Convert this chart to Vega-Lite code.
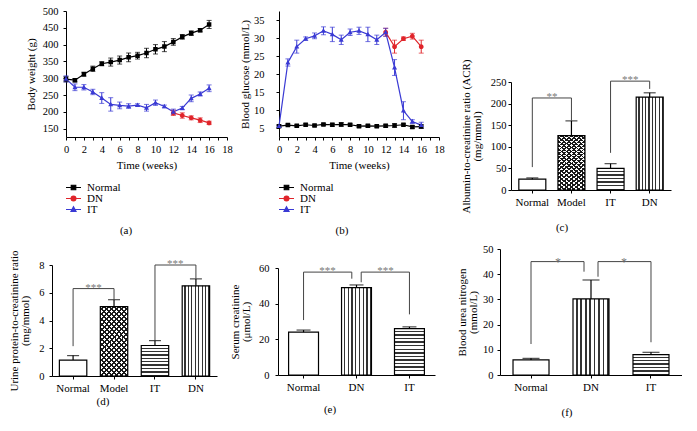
{
"$schema":"https://vega.github.io/schema/vega-lite/v6.json",
"background":"white",
"padding":0,
"columns":3,
"spacing":0,
"bounds":"flush",
"resolve":{"scale":{"color":"independent","shape":"independent"},"legend":{"color":"independent","shape":"independent"}},
"config":{
 "view":{"stroke":null},
 "axis":{"labelFont":"Liberation Serif","titleFont":"Liberation Serif","labelFontSize":10.5,"titleFontSize":11,"titleFontWeight":"normal","labelColor":"#000","titleColor":"#000","domainColor":"#000","tickColor":"#000","tickSize":3,"grid":false,"labelOverlap":false,"labelFlush":false,"titleLineHeight":11},
 "legend":{"labelFont":"Liberation Serif","labelFontSize":11,"labelColor":"#000"},
 "title":{"font":"Liberation Serif","fontSize":11,"fontWeight":"normal","color":"#000"}
},
"datasets":{
 "a":[
  {"g":"Normal","t":0,"v":297,"e":8},{"g":"Normal","t":1,"v":294,"e":5},{"g":"Normal","t":2,"v":312,"e":6},{"g":"Normal","t":3,"v":328,"e":8},
  {"g":"Normal","t":4,"v":343,"e":6},{"g":"Normal","t":5,"v":348,"e":12},{"g":"Normal","t":6,"v":354,"e":12},{"g":"Normal","t":7,"v":362,"e":13},
  {"g":"Normal","t":8,"v":367,"e":10},{"g":"Normal","t":9,"v":375,"e":14},{"g":"Normal","t":10,"v":386,"e":14},{"g":"Normal","t":11,"v":394,"e":15},
  {"g":"Normal","t":12,"v":408,"e":10},{"g":"Normal","t":13,"v":423,"e":7},{"g":"Normal","t":14,"v":434,"e":7},{"g":"Normal","t":15,"v":443,"e":5},
  {"g":"Normal","t":16,"v":460,"e":12},
  {"g":"DN","t":12,"v":197,"e":8},{"g":"DN","t":13,"v":189,"e":8},{"g":"DN","t":14,"v":182,"e":6},{"g":"DN","t":15,"v":175,"e":7},{"g":"DN","t":16,"v":167,"e":5},
  {"g":"IT","t":0,"v":298,"e":9},{"g":"IT","t":1,"v":273,"e":10},{"g":"IT","t":2,"v":273,"e":8},{"g":"IT","t":3,"v":259,"e":8},
  {"g":"IT","t":4,"v":241,"e":16},{"g":"IT","t":5,"v":222,"e":20},{"g":"IT","t":6,"v":219,"e":10},{"g":"IT","t":7,"v":217,"e":7},
  {"g":"IT","t":8,"v":220,"e":4},{"g":"IT","t":9,"v":212,"e":10},{"g":"IT","t":10,"v":227,"e":8},{"g":"IT","t":11,"v":216,"e":4},
  {"g":"IT","t":12,"v":200,"e":8},{"g":"IT","t":13,"v":211,"e":5},{"g":"IT","t":14,"v":240,"e":10},{"g":"IT","t":15,"v":253,"e":6},
  {"g":"IT","t":16,"v":270,"e":10}],
 "b":[
  {"g":"Normal","t":0,"v":5.5,"e":0.3},{"g":"Normal","t":1,"v":5.8,"e":0.3},{"g":"Normal","t":2,"v":5.6,"e":0.3},{"g":"Normal","t":3,"v":5.9,"e":0.3},
  {"g":"Normal","t":4,"v":5.7,"e":0.3},{"g":"Normal","t":5,"v":6.0,"e":0.3},{"g":"Normal","t":6,"v":5.9,"e":0.4},{"g":"Normal","t":7,"v":6.0,"e":0.5},
  {"g":"Normal","t":8,"v":5.9,"e":0.3},{"g":"Normal","t":9,"v":5.5,"e":0.3},{"g":"Normal","t":10,"v":5.6,"e":0.3},{"g":"Normal","t":11,"v":5.5,"e":0.3},
  {"g":"Normal","t":12,"v":5.6,"e":0.4},{"g":"Normal","t":13,"v":5.7,"e":0.5},{"g":"Normal","t":14,"v":5.9,"e":0.3},{"g":"Normal","t":15,"v":5.3,"e":0.4},
  {"g":"Normal","t":16,"v":5.4,"e":0.5},
  {"g":"DN","t":12,"v":31.6,"e":1.1},{"g":"DN","t":13,"v":27.6,"e":1.8},{"g":"DN","t":14,"v":29.8,"e":0.5},{"g":"DN","t":15,"v":30.5,"e":0.8},{"g":"DN","t":16,"v":27.6,"e":1.8},
  {"g":"IT","t":0,"v":5.5,"e":0.3},{"g":"IT","t":1,"v":23.2,"e":1.0},{"g":"IT","t":2,"v":27.6,"e":1.8},{"g":"IT","t":3,"v":29.8,"e":0.5},
  {"g":"IT","t":4,"v":30.6,"e":0.8},{"g":"IT","t":5,"v":32.0,"e":1.1},{"g":"IT","t":6,"v":31.0,"e":2.0},{"g":"IT","t":7,"v":29.5,"e":1.3},
  {"g":"IT","t":8,"v":31.6,"e":0.9},{"g":"IT","t":9,"v":32.0,"e":1.0},{"g":"IT","t":10,"v":31.0,"e":2.0},{"g":"IT","t":11,"v":29.5,"e":1.3},
  {"g":"IT","t":12,"v":31.6,"e":1.1},{"g":"IT","t":13,"v":21.8,"e":2.2},{"g":"IT","t":14,"v":9.8,"e":2.5},{"g":"IT","t":15,"v":6.8,"e":0.5},
  {"g":"IT","t":16,"v":5.8,"e":0.8}],
 "c":[{"g":"Normal","v":25,"hi":28},{"g":"Model","v":126,"hi":160},{"g":"IT","v":50,"hi":61},{"g":"DN","v":215,"hi":225}],
 "cb":[{"a":"Normal","b":"Model","y":213,"ya":53,"yb":160,"s":"**"},{"a":"IT","b":"DN","y":252,"ya":86,"yb":234,"s":"***"}],
 "d":[{"g":"Normal","v":1.15,"hi":1.47},{"g":"Model","v":5.0,"hi":5.5},{"g":"IT","v":2.2,"hi":2.55},{"g":"DN","v":6.5,"hi":7.0}],
 "db":[{"a":"Normal","b":"Model","y":6.3,"ya":2.15,"yb":5.5,"s":"***"},{"a":"IT","b":"DN","y":8.0,"ya":2.55,"yb":7.0,"s":"***"}],
 "e":[{"g":"Normal","v":24,"hi":25.2},{"g":"DN","v":49,"hi":50.5},{"g":"IT","v":26,"hi":27}],
 "eb1":[{"a":"Normal","b":"DN","y":57.7,"ya":30.8,"yb":54,"s":"***"}],
 "eb2":[{"a":"DN","b":"IT","y":57.7,"ya":52,"yb":34,"s":"***"}],
 "f":[{"g":"Normal","v":6.0,"hi":6.6},{"g":"DN","v":30.2,"hi":37.7},{"g":"IT","v":8.1,"hi":9.0}],
 "fb1":[{"a":"Normal","b":"DN","y":45,"ya":12.3,"yb":41,"s":"*"}],
 "fb2":[{"a":"DN","b":"IT","y":45,"ya":39,"yb":13,"s":"*"}]
},
"concat":[
 {"name":"pa","width":227,"height":137,"data":{"name":"a"},
  "title":{"text":"(a)","orient":"bottom","anchor":"middle","frame":"group","offset":10,"dx":12.5},
  "encoding":{
   "x":{"field":"t","type":"quantitative","scale":{"domain":[0,18],"range":[66,227],"nice":false,"zero":false},"axis":{"title":"Time (weeks)","values":[0,1,2,3,4,5,6,7,8,9,10,11,12,13,14,15,16,17,18],"labelExpr":"datum.value % 2 === 0 ? datum.label : ''","labelPadding":4,"titlePadding":5}},
   "y":{"field":"v","type":"quantitative","scale":{"domain":[125,500],"range":[137,11],"nice":false,"zero":false},"axis":{"title":"Body weight (g)","values":[150,200,250,300,350,400,450,500],"offset":-66,"labelPadding":5,"titlePadding":6}},
   "color":{"field":"g","type":"nominal","scale":{"domain":["Normal","DN","IT"],"range":["#000000","#e0242a","#3a3ad4"]},
     "legend":{"title":null,"orient":"none","legendX":67.5,"legendY":181.5,"symbolSize":100,"rowPadding":-2,"labelOffset":7.5,"padding":0,"symbolStrokeWidth":1.2,
      "encode":{"symbols":{"update":{
       "fill":[{"test":"datum.value === 'DN'","value":"#e0242a"},{"test":"datum.value === 'IT'","value":"#3a3ad4"},{"value":"#000000"}],
       "stroke":[{"test":"datum.value === 'DN'","value":"#e0242a"},{"test":"datum.value === 'IT'","value":"#3a3ad4"},{"value":"#000000"}],
       "strokeWidth":{"value":1.2}}}}}}},
  "layer":[
   {"mark":{"type":"line","strokeWidth":1.2}},
   {"mark":{"type":"errorbar","ticks":{"size":5},"rule":{"strokeWidth":1}},"encoding":{"yError":{"field":"e"}}},
   {"mark":{"type":"point","filled":true,"strokeWidth":0,"size":100,"opacity":1},
    "encoding":{"shape":{"field":"g","type":"nominal","scale":{"domain":["Normal","DN","IT"],"range":["M-1.5,0H1.5M-0.45,-0.45H0.45V0.45H-0.45Z","M-1.5,0H1.5M0.48,0A0.48,0.48,0,1,1,-0.48,0A0.48,0.48,0,1,1,0.48,0Z","M-1.5,0H1.5M0,-0.54L0.5,0.38H-0.5Z"]},
     "legend":{"title":null,"orient":"none","legendX":67.5,"legendY":181.5,"symbolSize":100,"rowPadding":-2,"labelOffset":7.5,"padding":0,"symbolStrokeWidth":1.2,
      "encode":{"symbols":{"update":{
       "fill":[{"test":"datum.value === 'DN'","value":"#e0242a"},{"test":"datum.value === 'IT'","value":"#3a3ad4"},{"value":"#000000"}],
       "stroke":[{"test":"datum.value === 'DN'","value":"#e0242a"},{"test":"datum.value === 'IT'","value":"#3a3ad4"},{"value":"#000000"}],
       "strokeWidth":{"value":1.2}}}}}}}}
  ]},
 {"name":"pb","width":212,"height":137,"data":{"name":"b"},
  "title":{"text":"(b)","orient":"bottom","anchor":"middle","frame":"group","offset":10,"dx":9},
  "encoding":{
   "x":{"field":"t","type":"quantitative","scale":{"domain":[0,18],"range":[52,212],"nice":false,"zero":false},"axis":{"title":"Time (weeks)","values":[0,1,2,3,4,5,6,7,8,9,10,11,12,13,14,15,16,17,18],"labelExpr":"datum.value % 2 === 0 ? datum.label : ''","labelPadding":4,"titlePadding":5}},
   "y":{"field":"v","type":"quantitative","scale":{"domain":[2.5,37.5],"range":[137,11],"nice":false,"zero":false},"axis":{"title":"Blood glucose (mmol/L)","values":[5,10,15,20,25,30,35],"offset":-52,"labelPadding":12,"titlePadding":3}},
   "color":{"field":"g","type":"nominal","scale":{"domain":["Normal","DN","IT"],"range":["#000000","#e0242a","#3a3ad4"]},
     "legend":{"title":null,"orient":"none","legendX":53.5,"legendY":181.5,"symbolSize":100,"rowPadding":-2,"labelOffset":7.5,"padding":0,"symbolStrokeWidth":1.2,
      "encode":{"symbols":{"update":{
       "fill":[{"test":"datum.value === 'DN'","value":"#e0242a"},{"test":"datum.value === 'IT'","value":"#3a3ad4"},{"value":"#000000"}],
       "stroke":[{"test":"datum.value === 'DN'","value":"#e0242a"},{"test":"datum.value === 'IT'","value":"#3a3ad4"},{"value":"#000000"}],
       "strokeWidth":{"value":1.2}}}}}}},
  "layer":[
   {"mark":{"type":"line","strokeWidth":1.2}},
   {"mark":{"type":"errorbar","ticks":{"size":5},"rule":{"strokeWidth":1}},"encoding":{"yError":{"field":"e"}}},
   {"mark":{"type":"point","filled":true,"strokeWidth":0,"size":100,"opacity":1},
    "encoding":{"shape":{"field":"g","type":"nominal","scale":{"domain":["Normal","DN","IT"],"range":["M-1.5,0H1.5M-0.45,-0.45H0.45V0.45H-0.45Z","M-1.5,0H1.5M0.48,0A0.48,0.48,0,1,1,-0.48,0A0.48,0.48,0,1,1,0.48,0Z","M-1.5,0H1.5M0,-0.54L0.5,0.38H-0.5Z"]},
     "legend":{"title":null,"orient":"none","legendX":53.5,"legendY":181.5,"symbolSize":100,"rowPadding":-2,"labelOffset":7.5,"padding":0,"symbolStrokeWidth":1.2,
      "encode":{"symbols":{"update":{
       "fill":[{"test":"datum.value === 'DN'","value":"#e0242a"},{"test":"datum.value === 'IT'","value":"#3a3ad4"},{"value":"#000000"}],
       "stroke":[{"test":"datum.value === 'DN'","value":"#e0242a"},{"test":"datum.value === 'IT'","value":"#3a3ad4"},{"value":"#000000"}],
       "strokeWidth":{"value":1.2}}}}}}}}
  ]},
 {"name":"pc","width":232,"height":190,"data":{"name":"c"},
  "title":{"text":"(c)","orient":"bottom","anchor":"middle","frame":"group","offset":9,"dx":7},
  "encoding":{
   "x":{"field":"g","type":"nominal","sort":null,"scale":{"domain":["Normal","Model","IT","DN"],"range":[72,232],"paddingInner":0.31,"paddingOuter":0.2},"axis":{"title":null,"labelAngle":0,"labelFontSize":11,"labelPadding":3}},
   "y":{"field":"v","type":"quantitative","scale":{"domain":[0,250],"range":[190,82],"nice":false,"zero":false},"axis":{"title":["Albumin-to-creatinine ratio (ACR)","(mg/mmol)"],"values":[0,50,100,150,200,250],"offset":-72,"labelPadding":2,"titlePadding":8}}},
  "layer":[
   {"mark":{"type":"bar","fill":"#ffffff","stroke":null}},
   {"transform":[{"filter":"datum.g === 'DN'"}],"mark":{"type":"bar","stroke":null,"fill":{"gradient":"linear","x1":0,"y1":0,"x2":1,"y2":0,"stops":[
   {"offset":0,"color":"#ffffff"},{"offset":0.081,"color":"#ffffff"},{"offset":0.081,"color":"#333333"},{"offset":0.125,"color":"#333333"},
   {"offset":0.125,"color":"#ffffff"},{"offset":0.206,"color":"#ffffff"},{"offset":0.206,"color":"#333333"},{"offset":0.25,"color":"#333333"},
   {"offset":0.25,"color":"#ffffff"},{"offset":0.331,"color":"#ffffff"},{"offset":0.331,"color":"#333333"},{"offset":0.375,"color":"#333333"},
   {"offset":0.375,"color":"#ffffff"},{"offset":0.456,"color":"#ffffff"},{"offset":0.456,"color":"#333333"},{"offset":0.5,"color":"#333333"},
   {"offset":0.5,"color":"#ffffff"},{"offset":0.581,"color":"#ffffff"},{"offset":0.581,"color":"#333333"},{"offset":0.625,"color":"#333333"},
   {"offset":0.625,"color":"#ffffff"},{"offset":0.706,"color":"#ffffff"},{"offset":0.706,"color":"#333333"},{"offset":0.75,"color":"#333333"},
   {"offset":0.75,"color":"#ffffff"},{"offset":0.831,"color":"#ffffff"},{"offset":0.831,"color":"#333333"},{"offset":0.875,"color":"#333333"},
   {"offset":0.875,"color":"#ffffff"},{"offset":0.956,"color":"#ffffff"},{"offset":0.956,"color":"#333333"},{"offset":1,"color":"#333333"}]}}},
   {"transform":[{"filter":"datum.g === 'IT'"}],"mark":{"type":"bar","stroke":null,"fill":{"gradient":"linear","x1":0,"y1":0,"x2":0,"y2":1,"stops":[
   {"offset":0,"color":"#ffffff"},{"offset":0.1,"color":"#ffffff"},{"offset":0.1,"color":"#333333"},{"offset":0.1667,"color":"#333333"},
   {"offset":0.1667,"color":"#ffffff"},{"offset":0.2667,"color":"#ffffff"},{"offset":0.2667,"color":"#333333"},{"offset":0.3333,"color":"#333333"},
   {"offset":0.3333,"color":"#ffffff"},{"offset":0.4333,"color":"#ffffff"},{"offset":0.4333,"color":"#333333"},{"offset":0.5,"color":"#333333"},
   {"offset":0.5,"color":"#ffffff"},{"offset":0.6,"color":"#ffffff"},{"offset":0.6,"color":"#333333"},{"offset":0.6667,"color":"#333333"},
   {"offset":0.6667,"color":"#ffffff"},{"offset":0.7667,"color":"#ffffff"},{"offset":0.7667,"color":"#333333"},{"offset":0.8333,"color":"#333333"},
   {"offset":0.8333,"color":"#ffffff"},{"offset":0.9333,"color":"#ffffff"},{"offset":0.9333,"color":"#333333"},{"offset":1,"color":"#333333"}]}}},
   {"transform":[{"filter":"datum.g === 'Model'"}],"mark":{"type":"bar","stroke":null,"fill":{"gradient":"linear","x1":0,"y1":0,"x2":1,"y2":2.5,"stops":[
   {"offset":0,"color":"rgba(0,0,0,0)"},{"offset":0.015,"color":"rgba(0,0,0,0)"},{"offset":0.015,"color":"#1a1a1a"},{"offset":0.025,"color":"#1a1a1a"},
   {"offset":0.025,"color":"rgba(0,0,0,0)"},{"offset":0.04,"color":"rgba(0,0,0,0)"},{"offset":0.04,"color":"#1a1a1a"},{"offset":0.05,"color":"#1a1a1a"},
   {"offset":0.05,"color":"rgba(0,0,0,0)"},{"offset":0.065,"color":"rgba(0,0,0,0)"},{"offset":0.065,"color":"#1a1a1a"},{"offset":0.075,"color":"#1a1a1a"},
   {"offset":0.075,"color":"rgba(0,0,0,0)"},{"offset":0.09,"color":"rgba(0,0,0,0)"},{"offset":0.09,"color":"#1a1a1a"},{"offset":0.1,"color":"#1a1a1a"},
   {"offset":0.1,"color":"rgba(0,0,0,0)"},{"offset":0.115,"color":"rgba(0,0,0,0)"},{"offset":0.115,"color":"#1a1a1a"},{"offset":0.125,"color":"#1a1a1a"},
   {"offset":0.125,"color":"rgba(0,0,0,0)"},{"offset":0.14,"color":"rgba(0,0,0,0)"},{"offset":0.14,"color":"#1a1a1a"},{"offset":0.15,"color":"#1a1a1a"},
   {"offset":0.15,"color":"rgba(0,0,0,0)"},{"offset":0.165,"color":"rgba(0,0,0,0)"},{"offset":0.165,"color":"#1a1a1a"},{"offset":0.175,"color":"#1a1a1a"},
   {"offset":0.175,"color":"rgba(0,0,0,0)"},{"offset":0.19,"color":"rgba(0,0,0,0)"},{"offset":0.19,"color":"#1a1a1a"},{"offset":0.2,"color":"#1a1a1a"},
   {"offset":0.2,"color":"rgba(0,0,0,0)"},{"offset":0.215,"color":"rgba(0,0,0,0)"},{"offset":0.215,"color":"#1a1a1a"},{"offset":0.225,"color":"#1a1a1a"},
   {"offset":0.225,"color":"rgba(0,0,0,0)"},{"offset":0.24,"color":"rgba(0,0,0,0)"},{"offset":0.24,"color":"#1a1a1a"},{"offset":0.25,"color":"#1a1a1a"},
   {"offset":0.25,"color":"rgba(0,0,0,0)"},{"offset":0.265,"color":"rgba(0,0,0,0)"},{"offset":0.265,"color":"#1a1a1a"},{"offset":0.275,"color":"#1a1a1a"},
   {"offset":0.275,"color":"rgba(0,0,0,0)"},{"offset":0.29,"color":"rgba(0,0,0,0)"},{"offset":0.29,"color":"#1a1a1a"},{"offset":0.3,"color":"#1a1a1a"},
   {"offset":0.3,"color":"rgba(0,0,0,0)"},{"offset":0.315,"color":"rgba(0,0,0,0)"},{"offset":0.315,"color":"#1a1a1a"},{"offset":0.325,"color":"#1a1a1a"},
   {"offset":0.325,"color":"rgba(0,0,0,0)"},{"offset":0.34,"color":"rgba(0,0,0,0)"},{"offset":0.34,"color":"#1a1a1a"},{"offset":0.35,"color":"#1a1a1a"},
   {"offset":0.35,"color":"rgba(0,0,0,0)"},{"offset":0.365,"color":"rgba(0,0,0,0)"},{"offset":0.365,"color":"#1a1a1a"},{"offset":0.375,"color":"#1a1a1a"},
   {"offset":0.375,"color":"rgba(0,0,0,0)"},{"offset":0.39,"color":"rgba(0,0,0,0)"},{"offset":0.39,"color":"#1a1a1a"},{"offset":0.4,"color":"#1a1a1a"},
   {"offset":0.4,"color":"rgba(0,0,0,0)"},{"offset":0.415,"color":"rgba(0,0,0,0)"},{"offset":0.415,"color":"#1a1a1a"},{"offset":0.425,"color":"#1a1a1a"},
   {"offset":0.425,"color":"rgba(0,0,0,0)"},{"offset":0.44,"color":"rgba(0,0,0,0)"},{"offset":0.44,"color":"#1a1a1a"},{"offset":0.45,"color":"#1a1a1a"},
   {"offset":0.45,"color":"rgba(0,0,0,0)"},{"offset":0.465,"color":"rgba(0,0,0,0)"},{"offset":0.465,"color":"#1a1a1a"},{"offset":0.475,"color":"#1a1a1a"},
   {"offset":0.475,"color":"rgba(0,0,0,0)"},{"offset":0.49,"color":"rgba(0,0,0,0)"},{"offset":0.49,"color":"#1a1a1a"},{"offset":0.5,"color":"#1a1a1a"}]}}},
   {"transform":[{"filter":"datum.g === 'Model'"}],"mark":{"type":"bar","stroke":null,"fill":{"gradient":"linear","x1":1,"y1":0,"x2":0,"y2":2.5,"stops":[
   {"offset":0,"color":"rgba(0,0,0,0)"},{"offset":0.015,"color":"rgba(0,0,0,0)"},{"offset":0.015,"color":"#1a1a1a"},{"offset":0.025,"color":"#1a1a1a"},
   {"offset":0.025,"color":"rgba(0,0,0,0)"},{"offset":0.04,"color":"rgba(0,0,0,0)"},{"offset":0.04,"color":"#1a1a1a"},{"offset":0.05,"color":"#1a1a1a"},
   {"offset":0.05,"color":"rgba(0,0,0,0)"},{"offset":0.065,"color":"rgba(0,0,0,0)"},{"offset":0.065,"color":"#1a1a1a"},{"offset":0.075,"color":"#1a1a1a"},
   {"offset":0.075,"color":"rgba(0,0,0,0)"},{"offset":0.09,"color":"rgba(0,0,0,0)"},{"offset":0.09,"color":"#1a1a1a"},{"offset":0.1,"color":"#1a1a1a"},
   {"offset":0.1,"color":"rgba(0,0,0,0)"},{"offset":0.115,"color":"rgba(0,0,0,0)"},{"offset":0.115,"color":"#1a1a1a"},{"offset":0.125,"color":"#1a1a1a"},
   {"offset":0.125,"color":"rgba(0,0,0,0)"},{"offset":0.14,"color":"rgba(0,0,0,0)"},{"offset":0.14,"color":"#1a1a1a"},{"offset":0.15,"color":"#1a1a1a"},
   {"offset":0.15,"color":"rgba(0,0,0,0)"},{"offset":0.165,"color":"rgba(0,0,0,0)"},{"offset":0.165,"color":"#1a1a1a"},{"offset":0.175,"color":"#1a1a1a"},
   {"offset":0.175,"color":"rgba(0,0,0,0)"},{"offset":0.19,"color":"rgba(0,0,0,0)"},{"offset":0.19,"color":"#1a1a1a"},{"offset":0.2,"color":"#1a1a1a"},
   {"offset":0.2,"color":"rgba(0,0,0,0)"},{"offset":0.215,"color":"rgba(0,0,0,0)"},{"offset":0.215,"color":"#1a1a1a"},{"offset":0.225,"color":"#1a1a1a"},
   {"offset":0.225,"color":"rgba(0,0,0,0)"},{"offset":0.24,"color":"rgba(0,0,0,0)"},{"offset":0.24,"color":"#1a1a1a"},{"offset":0.25,"color":"#1a1a1a"},
   {"offset":0.25,"color":"rgba(0,0,0,0)"},{"offset":0.265,"color":"rgba(0,0,0,0)"},{"offset":0.265,"color":"#1a1a1a"},{"offset":0.275,"color":"#1a1a1a"},
   {"offset":0.275,"color":"rgba(0,0,0,0)"},{"offset":0.29,"color":"rgba(0,0,0,0)"},{"offset":0.29,"color":"#1a1a1a"},{"offset":0.3,"color":"#1a1a1a"},
   {"offset":0.3,"color":"rgba(0,0,0,0)"},{"offset":0.315,"color":"rgba(0,0,0,0)"},{"offset":0.315,"color":"#1a1a1a"},{"offset":0.325,"color":"#1a1a1a"},
   {"offset":0.325,"color":"rgba(0,0,0,0)"},{"offset":0.34,"color":"rgba(0,0,0,0)"},{"offset":0.34,"color":"#1a1a1a"},{"offset":0.35,"color":"#1a1a1a"},
   {"offset":0.35,"color":"rgba(0,0,0,0)"},{"offset":0.365,"color":"rgba(0,0,0,0)"},{"offset":0.365,"color":"#1a1a1a"},{"offset":0.375,"color":"#1a1a1a"},
   {"offset":0.375,"color":"rgba(0,0,0,0)"},{"offset":0.39,"color":"rgba(0,0,0,0)"},{"offset":0.39,"color":"#1a1a1a"},{"offset":0.4,"color":"#1a1a1a"},
   {"offset":0.4,"color":"rgba(0,0,0,0)"},{"offset":0.415,"color":"rgba(0,0,0,0)"},{"offset":0.415,"color":"#1a1a1a"},{"offset":0.425,"color":"#1a1a1a"},
   {"offset":0.425,"color":"rgba(0,0,0,0)"},{"offset":0.44,"color":"rgba(0,0,0,0)"},{"offset":0.44,"color":"#1a1a1a"},{"offset":0.45,"color":"#1a1a1a"},
   {"offset":0.45,"color":"rgba(0,0,0,0)"},{"offset":0.465,"color":"rgba(0,0,0,0)"},{"offset":0.465,"color":"#1a1a1a"},{"offset":0.475,"color":"#1a1a1a"},
   {"offset":0.475,"color":"rgba(0,0,0,0)"},{"offset":0.49,"color":"rgba(0,0,0,0)"},{"offset":0.49,"color":"#1a1a1a"},{"offset":0.5,"color":"#1a1a1a"}]}}},
   {"mark":{"type":"bar","fill":"transparent","stroke":"#000000","strokeWidth":1.2}},
   {"mark":{"type":"rule","color":"#000000","strokeWidth":1.2},"encoding":{"y2":{"field":"hi"}}},
   {"mark":{"type":"tick","color":"#000000","thickness":1.2,"size":12},"encoding":{"y":{"field":"hi","type":"quantitative"}}},
   {"data":{"name":"cb"},"mark":{"type":"rule","color":"#444444","strokeWidth":1},"encoding":{"x":{"field":"a","type":"nominal"},"x2":{"field":"b"},"y":{"field":"y","type":"quantitative"}}},
   {"data":{"name":"cb"},"mark":{"type":"rule","color":"#444444","strokeWidth":1},"encoding":{"x":{"field":"a","type":"nominal"},"y":{"field":"ya","type":"quantitative"},"y2":{"field":"y"}}},
   {"data":{"name":"cb"},"mark":{"type":"rule","color":"#444444","strokeWidth":1},"encoding":{"x":{"field":"b","type":"nominal"},"y":{"field":"yb","type":"quantitative"},"y2":{"field":"y"}}},
   {"data":{"name":"cb"},"mark":{"type":"text","dx":19.7,"dy":2,"baseline":"alphabetic","fontSize":11,"color":"#777777","font":"Liberation Serif"},"encoding":{"x":{"field":"a","type":"nominal"},"y":{"field":"y","type":"quantitative"},"text":{"field":"s"}}}
  ]},
 {"name":"pd","width":217,"height":186,"data":{"name":"d"},
  "title":{"text":"(d)","orient":"bottom","anchor":"middle","frame":"group","offset":3,"dx":-5.5},
  "encoding":{
   "x":{"field":"g","type":"nominal","sort":null,"scale":{"domain":["Normal","Model","IT","DN"],"range":[52,217],"paddingInner":0.33,"paddingOuter":0.18},"axis":{"title":null,"labelAngle":0,"labelFontSize":11,"labelPadding":3}},
   "y":{"field":"v","type":"quantitative","scale":{"domain":[0,8],"range":[186,75],"nice":false,"zero":false},"axis":{"title":["Urine protein-to-creatinine ratio","(mg/mmol)"],"values":[0,2,4,6,8],"offset":-52,"labelPadding":5,"titlePadding":8}}},
  "layer":[
   {"mark":{"type":"bar","fill":"#ffffff","stroke":null}},
   {"transform":[{"filter":"datum.g === 'DN'"}],"mark":{"type":"bar","stroke":null,"fill":{"gradient":"linear","x1":0,"y1":0,"x2":1,"y2":0,"stops":[
   {"offset":0,"color":"#ffffff"},{"offset":0.081,"color":"#ffffff"},{"offset":0.081,"color":"#333333"},{"offset":0.125,"color":"#333333"},
   {"offset":0.125,"color":"#ffffff"},{"offset":0.206,"color":"#ffffff"},{"offset":0.206,"color":"#333333"},{"offset":0.25,"color":"#333333"},
   {"offset":0.25,"color":"#ffffff"},{"offset":0.331,"color":"#ffffff"},{"offset":0.331,"color":"#333333"},{"offset":0.375,"color":"#333333"},
   {"offset":0.375,"color":"#ffffff"},{"offset":0.456,"color":"#ffffff"},{"offset":0.456,"color":"#333333"},{"offset":0.5,"color":"#333333"},
   {"offset":0.5,"color":"#ffffff"},{"offset":0.581,"color":"#ffffff"},{"offset":0.581,"color":"#333333"},{"offset":0.625,"color":"#333333"},
   {"offset":0.625,"color":"#ffffff"},{"offset":0.706,"color":"#ffffff"},{"offset":0.706,"color":"#333333"},{"offset":0.75,"color":"#333333"},
   {"offset":0.75,"color":"#ffffff"},{"offset":0.831,"color":"#ffffff"},{"offset":0.831,"color":"#333333"},{"offset":0.875,"color":"#333333"},
   {"offset":0.875,"color":"#ffffff"},{"offset":0.956,"color":"#ffffff"},{"offset":0.956,"color":"#333333"},{"offset":1,"color":"#333333"}]}}},
   {"transform":[{"filter":"datum.g === 'IT'"}],"mark":{"type":"bar","stroke":null,"fill":{"gradient":"linear","x1":0,"y1":0,"x2":0,"y2":1,"stops":[
   {"offset":0,"color":"#ffffff"},{"offset":0.0667,"color":"#ffffff"},{"offset":0.0667,"color":"#333333"},{"offset":0.1111,"color":"#333333"},
   {"offset":0.1111,"color":"#ffffff"},{"offset":0.1778,"color":"#ffffff"},{"offset":0.1778,"color":"#333333"},{"offset":0.2222,"color":"#333333"},
   {"offset":0.2222,"color":"#ffffff"},{"offset":0.2889,"color":"#ffffff"},{"offset":0.2889,"color":"#333333"},{"offset":0.3333,"color":"#333333"},
   {"offset":0.3333,"color":"#ffffff"},{"offset":0.4,"color":"#ffffff"},{"offset":0.4,"color":"#333333"},{"offset":0.4444,"color":"#333333"},
   {"offset":0.4444,"color":"#ffffff"},{"offset":0.5111,"color":"#ffffff"},{"offset":0.5111,"color":"#333333"},{"offset":0.5556,"color":"#333333"},
   {"offset":0.5556,"color":"#ffffff"},{"offset":0.6222,"color":"#ffffff"},{"offset":0.6222,"color":"#333333"},{"offset":0.6667,"color":"#333333"},
   {"offset":0.6667,"color":"#ffffff"},{"offset":0.7333,"color":"#ffffff"},{"offset":0.7333,"color":"#333333"},{"offset":0.7778,"color":"#333333"},
   {"offset":0.7778,"color":"#ffffff"},{"offset":0.8444,"color":"#ffffff"},{"offset":0.8444,"color":"#333333"},{"offset":0.8889,"color":"#333333"},
   {"offset":0.8889,"color":"#ffffff"},{"offset":0.9556,"color":"#ffffff"},{"offset":0.9556,"color":"#333333"},{"offset":1,"color":"#333333"}]}}},
   {"transform":[{"filter":"datum.g === 'Model'"}],"mark":{"type":"bar","stroke":null,"fill":{"gradient":"linear","x1":0,"y1":0,"x2":1,"y2":2.5,"stops":[
   {"offset":0,"color":"rgba(0,0,0,0)"},{"offset":0.015,"color":"rgba(0,0,0,0)"},{"offset":0.015,"color":"#1a1a1a"},{"offset":0.025,"color":"#1a1a1a"},
   {"offset":0.025,"color":"rgba(0,0,0,0)"},{"offset":0.04,"color":"rgba(0,0,0,0)"},{"offset":0.04,"color":"#1a1a1a"},{"offset":0.05,"color":"#1a1a1a"},
   {"offset":0.05,"color":"rgba(0,0,0,0)"},{"offset":0.065,"color":"rgba(0,0,0,0)"},{"offset":0.065,"color":"#1a1a1a"},{"offset":0.075,"color":"#1a1a1a"},
   {"offset":0.075,"color":"rgba(0,0,0,0)"},{"offset":0.09,"color":"rgba(0,0,0,0)"},{"offset":0.09,"color":"#1a1a1a"},{"offset":0.1,"color":"#1a1a1a"},
   {"offset":0.1,"color":"rgba(0,0,0,0)"},{"offset":0.115,"color":"rgba(0,0,0,0)"},{"offset":0.115,"color":"#1a1a1a"},{"offset":0.125,"color":"#1a1a1a"},
   {"offset":0.125,"color":"rgba(0,0,0,0)"},{"offset":0.14,"color":"rgba(0,0,0,0)"},{"offset":0.14,"color":"#1a1a1a"},{"offset":0.15,"color":"#1a1a1a"},
   {"offset":0.15,"color":"rgba(0,0,0,0)"},{"offset":0.165,"color":"rgba(0,0,0,0)"},{"offset":0.165,"color":"#1a1a1a"},{"offset":0.175,"color":"#1a1a1a"},
   {"offset":0.175,"color":"rgba(0,0,0,0)"},{"offset":0.19,"color":"rgba(0,0,0,0)"},{"offset":0.19,"color":"#1a1a1a"},{"offset":0.2,"color":"#1a1a1a"},
   {"offset":0.2,"color":"rgba(0,0,0,0)"},{"offset":0.215,"color":"rgba(0,0,0,0)"},{"offset":0.215,"color":"#1a1a1a"},{"offset":0.225,"color":"#1a1a1a"},
   {"offset":0.225,"color":"rgba(0,0,0,0)"},{"offset":0.24,"color":"rgba(0,0,0,0)"},{"offset":0.24,"color":"#1a1a1a"},{"offset":0.25,"color":"#1a1a1a"},
   {"offset":0.25,"color":"rgba(0,0,0,0)"},{"offset":0.265,"color":"rgba(0,0,0,0)"},{"offset":0.265,"color":"#1a1a1a"},{"offset":0.275,"color":"#1a1a1a"},
   {"offset":0.275,"color":"rgba(0,0,0,0)"},{"offset":0.29,"color":"rgba(0,0,0,0)"},{"offset":0.29,"color":"#1a1a1a"},{"offset":0.3,"color":"#1a1a1a"},
   {"offset":0.3,"color":"rgba(0,0,0,0)"},{"offset":0.315,"color":"rgba(0,0,0,0)"},{"offset":0.315,"color":"#1a1a1a"},{"offset":0.325,"color":"#1a1a1a"},
   {"offset":0.325,"color":"rgba(0,0,0,0)"},{"offset":0.34,"color":"rgba(0,0,0,0)"},{"offset":0.34,"color":"#1a1a1a"},{"offset":0.35,"color":"#1a1a1a"},
   {"offset":0.35,"color":"rgba(0,0,0,0)"},{"offset":0.365,"color":"rgba(0,0,0,0)"},{"offset":0.365,"color":"#1a1a1a"},{"offset":0.375,"color":"#1a1a1a"},
   {"offset":0.375,"color":"rgba(0,0,0,0)"},{"offset":0.39,"color":"rgba(0,0,0,0)"},{"offset":0.39,"color":"#1a1a1a"},{"offset":0.4,"color":"#1a1a1a"},
   {"offset":0.4,"color":"rgba(0,0,0,0)"},{"offset":0.415,"color":"rgba(0,0,0,0)"},{"offset":0.415,"color":"#1a1a1a"},{"offset":0.425,"color":"#1a1a1a"},
   {"offset":0.425,"color":"rgba(0,0,0,0)"},{"offset":0.44,"color":"rgba(0,0,0,0)"},{"offset":0.44,"color":"#1a1a1a"},{"offset":0.45,"color":"#1a1a1a"},
   {"offset":0.45,"color":"rgba(0,0,0,0)"},{"offset":0.465,"color":"rgba(0,0,0,0)"},{"offset":0.465,"color":"#1a1a1a"},{"offset":0.475,"color":"#1a1a1a"},
   {"offset":0.475,"color":"rgba(0,0,0,0)"},{"offset":0.49,"color":"rgba(0,0,0,0)"},{"offset":0.49,"color":"#1a1a1a"},{"offset":0.5,"color":"#1a1a1a"}]}}},
   {"transform":[{"filter":"datum.g === 'Model'"}],"mark":{"type":"bar","stroke":null,"fill":{"gradient":"linear","x1":1,"y1":0,"x2":0,"y2":2.5,"stops":[
   {"offset":0,"color":"rgba(0,0,0,0)"},{"offset":0.015,"color":"rgba(0,0,0,0)"},{"offset":0.015,"color":"#1a1a1a"},{"offset":0.025,"color":"#1a1a1a"},
   {"offset":0.025,"color":"rgba(0,0,0,0)"},{"offset":0.04,"color":"rgba(0,0,0,0)"},{"offset":0.04,"color":"#1a1a1a"},{"offset":0.05,"color":"#1a1a1a"},
   {"offset":0.05,"color":"rgba(0,0,0,0)"},{"offset":0.065,"color":"rgba(0,0,0,0)"},{"offset":0.065,"color":"#1a1a1a"},{"offset":0.075,"color":"#1a1a1a"},
   {"offset":0.075,"color":"rgba(0,0,0,0)"},{"offset":0.09,"color":"rgba(0,0,0,0)"},{"offset":0.09,"color":"#1a1a1a"},{"offset":0.1,"color":"#1a1a1a"},
   {"offset":0.1,"color":"rgba(0,0,0,0)"},{"offset":0.115,"color":"rgba(0,0,0,0)"},{"offset":0.115,"color":"#1a1a1a"},{"offset":0.125,"color":"#1a1a1a"},
   {"offset":0.125,"color":"rgba(0,0,0,0)"},{"offset":0.14,"color":"rgba(0,0,0,0)"},{"offset":0.14,"color":"#1a1a1a"},{"offset":0.15,"color":"#1a1a1a"},
   {"offset":0.15,"color":"rgba(0,0,0,0)"},{"offset":0.165,"color":"rgba(0,0,0,0)"},{"offset":0.165,"color":"#1a1a1a"},{"offset":0.175,"color":"#1a1a1a"},
   {"offset":0.175,"color":"rgba(0,0,0,0)"},{"offset":0.19,"color":"rgba(0,0,0,0)"},{"offset":0.19,"color":"#1a1a1a"},{"offset":0.2,"color":"#1a1a1a"},
   {"offset":0.2,"color":"rgba(0,0,0,0)"},{"offset":0.215,"color":"rgba(0,0,0,0)"},{"offset":0.215,"color":"#1a1a1a"},{"offset":0.225,"color":"#1a1a1a"},
   {"offset":0.225,"color":"rgba(0,0,0,0)"},{"offset":0.24,"color":"rgba(0,0,0,0)"},{"offset":0.24,"color":"#1a1a1a"},{"offset":0.25,"color":"#1a1a1a"},
   {"offset":0.25,"color":"rgba(0,0,0,0)"},{"offset":0.265,"color":"rgba(0,0,0,0)"},{"offset":0.265,"color":"#1a1a1a"},{"offset":0.275,"color":"#1a1a1a"},
   {"offset":0.275,"color":"rgba(0,0,0,0)"},{"offset":0.29,"color":"rgba(0,0,0,0)"},{"offset":0.29,"color":"#1a1a1a"},{"offset":0.3,"color":"#1a1a1a"},
   {"offset":0.3,"color":"rgba(0,0,0,0)"},{"offset":0.315,"color":"rgba(0,0,0,0)"},{"offset":0.315,"color":"#1a1a1a"},{"offset":0.325,"color":"#1a1a1a"},
   {"offset":0.325,"color":"rgba(0,0,0,0)"},{"offset":0.34,"color":"rgba(0,0,0,0)"},{"offset":0.34,"color":"#1a1a1a"},{"offset":0.35,"color":"#1a1a1a"},
   {"offset":0.35,"color":"rgba(0,0,0,0)"},{"offset":0.365,"color":"rgba(0,0,0,0)"},{"offset":0.365,"color":"#1a1a1a"},{"offset":0.375,"color":"#1a1a1a"},
   {"offset":0.375,"color":"rgba(0,0,0,0)"},{"offset":0.39,"color":"rgba(0,0,0,0)"},{"offset":0.39,"color":"#1a1a1a"},{"offset":0.4,"color":"#1a1a1a"},
   {"offset":0.4,"color":"rgba(0,0,0,0)"},{"offset":0.415,"color":"rgba(0,0,0,0)"},{"offset":0.415,"color":"#1a1a1a"},{"offset":0.425,"color":"#1a1a1a"},
   {"offset":0.425,"color":"rgba(0,0,0,0)"},{"offset":0.44,"color":"rgba(0,0,0,0)"},{"offset":0.44,"color":"#1a1a1a"},{"offset":0.45,"color":"#1a1a1a"},
   {"offset":0.45,"color":"rgba(0,0,0,0)"},{"offset":0.465,"color":"rgba(0,0,0,0)"},{"offset":0.465,"color":"#1a1a1a"},{"offset":0.475,"color":"#1a1a1a"},
   {"offset":0.475,"color":"rgba(0,0,0,0)"},{"offset":0.49,"color":"rgba(0,0,0,0)"},{"offset":0.49,"color":"#1a1a1a"},{"offset":0.5,"color":"#1a1a1a"}]}}},
   {"mark":{"type":"bar","fill":"transparent","stroke":"#000000","strokeWidth":1.2}},
   {"mark":{"type":"rule","color":"#000000","strokeWidth":1.2},"encoding":{"y2":{"field":"hi"}}},
   {"mark":{"type":"tick","color":"#000000","thickness":1.2,"size":12},"encoding":{"y":{"field":"hi","type":"quantitative"}}},
   {"data":{"name":"db"},"mark":{"type":"rule","color":"#444444","strokeWidth":1},"encoding":{"x":{"field":"a","type":"nominal"},"x2":{"field":"b"},"y":{"field":"y","type":"quantitative"}}},
   {"data":{"name":"db"},"mark":{"type":"rule","color":"#444444","strokeWidth":1},"encoding":{"x":{"field":"a","type":"nominal"},"y":{"field":"ya","type":"quantitative"},"y2":{"field":"y"}}},
   {"data":{"name":"db"},"mark":{"type":"rule","color":"#444444","strokeWidth":1},"encoding":{"x":{"field":"b","type":"nominal"},"y":{"field":"yb","type":"quantitative"},"y2":{"field":"y"}}},
   {"data":{"name":"db"},"mark":{"type":"text","dx":20.3,"dy":2,"baseline":"alphabetic","fontSize":11,"color":"#777777","font":"Liberation Serif"},"encoding":{"x":{"field":"a","type":"nominal"},"y":{"field":"y","type":"quantitative"},"text":{"field":"s"}}}
  ]},
 {"name":"pe","width":208,"height":185,"data":{"name":"e"},
  "title":{"text":"(e)","orient":"bottom","anchor":"middle","frame":"group","offset":12,"dx":-1},
  "encoding":{
   "x":{"field":"g","type":"nominal","sort":null,"scale":{"domain":["Normal","DN","IT"],"range":[51,208],"paddingInner":0.435,"paddingOuter":0.2},"axis":{"title":null,"labelAngle":0,"labelFontSize":11,"labelPadding":3}},
   "y":{"field":"v","type":"quantitative","scale":{"domain":[0,60],"range":[185,78],"nice":false,"zero":false},"axis":{"title":["Serum creatinine","(μmol/L)"],"values":[0,20,40,60],"offset":-51,"labelPadding":6,"titlePadding":7}}},
  "layer":[
   {"mark":{"type":"bar","fill":"#ffffff","stroke":null}},
   {"transform":[{"filter":"datum.g === 'DN'"}],"mark":{"type":"bar","stroke":null,"fill":{"gradient":"linear","x1":0,"y1":0,"x2":1,"y2":0,"stops":[
   {"offset":0,"color":"#ffffff"},{"offset":0.081,"color":"#ffffff"},{"offset":0.081,"color":"#333333"},{"offset":0.125,"color":"#333333"},
   {"offset":0.125,"color":"#ffffff"},{"offset":0.206,"color":"#ffffff"},{"offset":0.206,"color":"#333333"},{"offset":0.25,"color":"#333333"},
   {"offset":0.25,"color":"#ffffff"},{"offset":0.331,"color":"#ffffff"},{"offset":0.331,"color":"#333333"},{"offset":0.375,"color":"#333333"},
   {"offset":0.375,"color":"#ffffff"},{"offset":0.456,"color":"#ffffff"},{"offset":0.456,"color":"#333333"},{"offset":0.5,"color":"#333333"},
   {"offset":0.5,"color":"#ffffff"},{"offset":0.581,"color":"#ffffff"},{"offset":0.581,"color":"#333333"},{"offset":0.625,"color":"#333333"},
   {"offset":0.625,"color":"#ffffff"},{"offset":0.706,"color":"#ffffff"},{"offset":0.706,"color":"#333333"},{"offset":0.75,"color":"#333333"},
   {"offset":0.75,"color":"#ffffff"},{"offset":0.831,"color":"#ffffff"},{"offset":0.831,"color":"#333333"},{"offset":0.875,"color":"#333333"},
   {"offset":0.875,"color":"#ffffff"},{"offset":0.956,"color":"#ffffff"},{"offset":0.956,"color":"#333333"},{"offset":1,"color":"#333333"}]}}},
   {"transform":[{"filter":"datum.g === 'IT'"}],"mark":{"type":"bar","stroke":null,"fill":{"gradient":"linear","x1":0,"y1":0,"x2":0,"y2":1,"stops":[
   {"offset":0,"color":"#ffffff"},{"offset":0.0462,"color":"#ffffff"},{"offset":0.0462,"color":"#333333"},{"offset":0.0769,"color":"#333333"},
   {"offset":0.0769,"color":"#ffffff"},{"offset":0.1231,"color":"#ffffff"},{"offset":0.1231,"color":"#333333"},{"offset":0.1538,"color":"#333333"},
   {"offset":0.1538,"color":"#ffffff"},{"offset":0.2,"color":"#ffffff"},{"offset":0.2,"color":"#333333"},{"offset":0.2308,"color":"#333333"},
   {"offset":0.2308,"color":"#ffffff"},{"offset":0.2769,"color":"#ffffff"},{"offset":0.2769,"color":"#333333"},{"offset":0.3077,"color":"#333333"},
   {"offset":0.3077,"color":"#ffffff"},{"offset":0.3538,"color":"#ffffff"},{"offset":0.3538,"color":"#333333"},{"offset":0.3846,"color":"#333333"},
   {"offset":0.3846,"color":"#ffffff"},{"offset":0.4308,"color":"#ffffff"},{"offset":0.4308,"color":"#333333"},{"offset":0.4615,"color":"#333333"},
   {"offset":0.4615,"color":"#ffffff"},{"offset":0.5077,"color":"#ffffff"},{"offset":0.5077,"color":"#333333"},{"offset":0.5385,"color":"#333333"},
   {"offset":0.5385,"color":"#ffffff"},{"offset":0.5846,"color":"#ffffff"},{"offset":0.5846,"color":"#333333"},{"offset":0.6154,"color":"#333333"},
   {"offset":0.6154,"color":"#ffffff"},{"offset":0.6615,"color":"#ffffff"},{"offset":0.6615,"color":"#333333"},{"offset":0.6923,"color":"#333333"},
   {"offset":0.6923,"color":"#ffffff"},{"offset":0.7385,"color":"#ffffff"},{"offset":0.7385,"color":"#333333"},{"offset":0.7692,"color":"#333333"},
   {"offset":0.7692,"color":"#ffffff"},{"offset":0.8154,"color":"#ffffff"},{"offset":0.8154,"color":"#333333"},{"offset":0.8462,"color":"#333333"},
   {"offset":0.8462,"color":"#ffffff"},{"offset":0.8923,"color":"#ffffff"},{"offset":0.8923,"color":"#333333"},{"offset":0.9231,"color":"#333333"},
   {"offset":0.9231,"color":"#ffffff"},{"offset":0.9692,"color":"#ffffff"},{"offset":0.9692,"color":"#333333"},{"offset":1,"color":"#333333"}]}}},
   {"mark":{"type":"bar","fill":"transparent","stroke":"#000000","strokeWidth":1.2}},
   {"mark":{"type":"rule","color":"#000000","strokeWidth":1.2},"encoding":{"y2":{"field":"hi"}}},
   {"mark":{"type":"tick","color":"#000000","thickness":1.2,"size":14},"encoding":{"y":{"field":"hi","type":"quantitative"}}},
   {"data":{"name":"eb1"},"mark":{"type":"rule","color":"#444444","strokeWidth":1,"x2Offset":-4.7},"encoding":{"x":{"field":"a","type":"nominal"},"x2":{"field":"b"},"y":{"field":"y","type":"quantitative"}}},
   {"data":{"name":"eb1"},"mark":{"type":"rule","color":"#444444","strokeWidth":1},"encoding":{"x":{"field":"a","type":"nominal"},"y":{"field":"ya","type":"quantitative"},"y2":{"field":"y"}}},
   {"data":{"name":"eb1"},"mark":{"type":"rule","color":"#444444","strokeWidth":1,"xOffset":-4.7},"encoding":{"x":{"field":"b","type":"nominal"},"y":{"field":"yb","type":"quantitative"},"y2":{"field":"y"}}},
   {"data":{"name":"eb1"},"mark":{"type":"text","dx":24,"dy":2,"baseline":"alphabetic","fontSize":11,"color":"#777777","font":"Liberation Serif"},"encoding":{"x":{"field":"a","type":"nominal"},"y":{"field":"y","type":"quantitative"},"text":{"field":"s"}}},
   {"data":{"name":"eb2"},"mark":{"type":"rule","color":"#444444","strokeWidth":1,"xOffset":4.7},"encoding":{"x":{"field":"a","type":"nominal"},"x2":{"field":"b"},"y":{"field":"y","type":"quantitative"}}},
   {"data":{"name":"eb2"},"mark":{"type":"rule","color":"#444444","strokeWidth":1,"xOffset":4.7},"encoding":{"x":{"field":"a","type":"nominal"},"y":{"field":"ya","type":"quantitative"},"y2":{"field":"y"}}},
   {"data":{"name":"eb2"},"mark":{"type":"rule","color":"#444444","strokeWidth":1},"encoding":{"x":{"field":"b","type":"nominal"},"y":{"field":"yb","type":"quantitative"},"y2":{"field":"y"}}},
   {"data":{"name":"eb2"},"mark":{"type":"text","dx":29,"dy":2,"baseline":"alphabetic","fontSize":11,"color":"#777777","font":"Liberation Serif"},"encoding":{"x":{"field":"a","type":"nominal"},"y":{"field":"y","type":"quantitative"},"text":{"field":"s"}}}
  ]},
 {"name":"pf","width":243,"height":185,"data":{"name":"f"},
  "title":{"text":"(f)","orient":"bottom","anchor":"middle","frame":"group","offset":15,"dx":6.5},
  "encoding":{
   "x":{"field":"g","type":"nominal","sort":null,"scale":{"domain":["Normal","DN","IT"],"range":[61,243],"paddingInner":0.4,"paddingOuter":0.217},"axis":{"title":null,"labelAngle":0,"labelFontSize":11,"labelPadding":3}},
   "y":{"field":"v","type":"quantitative","scale":{"domain":[0,50],"range":[185,59],"nice":false,"zero":false},"axis":{"title":["Blood urea nitrogen","(mmol/L)"],"values":[0,10,20,30,40,50],"offset":-61,"labelPadding":4,"titlePadding":4}}},
  "layer":[
   {"mark":{"type":"bar","fill":"#ffffff","stroke":null}},
   {"transform":[{"filter":"datum.g === 'DN'"}],"mark":{"type":"bar","stroke":null,"fill":{"gradient":"linear","x1":0,"y1":0,"x2":1,"y2":0,"stops":[
   {"offset":0,"color":"#ffffff"},{"offset":0.081,"color":"#ffffff"},{"offset":0.081,"color":"#333333"},{"offset":0.125,"color":"#333333"},
   {"offset":0.125,"color":"#ffffff"},{"offset":0.206,"color":"#ffffff"},{"offset":0.206,"color":"#333333"},{"offset":0.25,"color":"#333333"},
   {"offset":0.25,"color":"#ffffff"},{"offset":0.331,"color":"#ffffff"},{"offset":0.331,"color":"#333333"},{"offset":0.375,"color":"#333333"},
   {"offset":0.375,"color":"#ffffff"},{"offset":0.456,"color":"#ffffff"},{"offset":0.456,"color":"#333333"},{"offset":0.5,"color":"#333333"},
   {"offset":0.5,"color":"#ffffff"},{"offset":0.581,"color":"#ffffff"},{"offset":0.581,"color":"#333333"},{"offset":0.625,"color":"#333333"},
   {"offset":0.625,"color":"#ffffff"},{"offset":0.706,"color":"#ffffff"},{"offset":0.706,"color":"#333333"},{"offset":0.75,"color":"#333333"},
   {"offset":0.75,"color":"#ffffff"},{"offset":0.831,"color":"#ffffff"},{"offset":0.831,"color":"#333333"},{"offset":0.875,"color":"#333333"},
   {"offset":0.875,"color":"#ffffff"},{"offset":0.956,"color":"#ffffff"},{"offset":0.956,"color":"#333333"},{"offset":1,"color":"#333333"}]}}},
   {"transform":[{"filter":"datum.g === 'IT'"}],"mark":{"type":"bar","stroke":null,"fill":{"gradient":"linear","x1":0,"y1":0,"x2":0,"y2":1,"stops":[
   {"offset":0,"color":"#ffffff"},{"offset":0.1,"color":"#ffffff"},{"offset":0.1,"color":"#333333"},{"offset":0.1667,"color":"#333333"},
   {"offset":0.1667,"color":"#ffffff"},{"offset":0.2667,"color":"#ffffff"},{"offset":0.2667,"color":"#333333"},{"offset":0.3333,"color":"#333333"},
   {"offset":0.3333,"color":"#ffffff"},{"offset":0.4333,"color":"#ffffff"},{"offset":0.4333,"color":"#333333"},{"offset":0.5,"color":"#333333"},
   {"offset":0.5,"color":"#ffffff"},{"offset":0.6,"color":"#ffffff"},{"offset":0.6,"color":"#333333"},{"offset":0.6667,"color":"#333333"},
   {"offset":0.6667,"color":"#ffffff"},{"offset":0.7667,"color":"#ffffff"},{"offset":0.7667,"color":"#333333"},{"offset":0.8333,"color":"#333333"},
   {"offset":0.8333,"color":"#ffffff"},{"offset":0.9333,"color":"#ffffff"},{"offset":0.9333,"color":"#333333"},{"offset":1,"color":"#333333"}]}}},
   {"mark":{"type":"bar","fill":"transparent","stroke":"#000000","strokeWidth":1.2}},
   {"mark":{"type":"rule","color":"#000000","strokeWidth":1.2},"encoding":{"y2":{"field":"hi"}}},
   {"mark":{"type":"tick","color":"#000000","thickness":1.2,"size":17},"encoding":{"y":{"field":"hi","type":"quantitative"}}},
   {"data":{"name":"fb1"},"mark":{"type":"rule","color":"#444444","strokeWidth":1,"x2Offset":-7},"encoding":{"x":{"field":"a","type":"nominal"},"x2":{"field":"b"},"y":{"field":"y","type":"quantitative"}}},
   {"data":{"name":"fb1"},"mark":{"type":"rule","color":"#444444","strokeWidth":1},"encoding":{"x":{"field":"a","type":"nominal"},"y":{"field":"ya","type":"quantitative"},"y2":{"field":"y"}}},
   {"data":{"name":"fb1"},"mark":{"type":"rule","color":"#444444","strokeWidth":1,"xOffset":-7},"encoding":{"x":{"field":"b","type":"nominal"},"y":{"field":"yb","type":"quantitative"},"y2":{"field":"y"}}},
   {"data":{"name":"fb1"},"mark":{"type":"text","dx":27,"dy":4,"baseline":"alphabetic","fontSize":12,"color":"#777777","font":"Liberation Serif"},"encoding":{"x":{"field":"a","type":"nominal"},"y":{"field":"y","type":"quantitative"},"text":{"field":"s"}}},
   {"data":{"name":"fb2"},"mark":{"type":"rule","color":"#444444","strokeWidth":1,"xOffset":7},"encoding":{"x":{"field":"a","type":"nominal"},"x2":{"field":"b"},"y":{"field":"y","type":"quantitative"}}},
   {"data":{"name":"fb2"},"mark":{"type":"rule","color":"#444444","strokeWidth":1,"xOffset":7},"encoding":{"x":{"field":"a","type":"nominal"},"y":{"field":"ya","type":"quantitative"},"y2":{"field":"y"}}},
   {"data":{"name":"fb2"},"mark":{"type":"rule","color":"#444444","strokeWidth":1},"encoding":{"x":{"field":"b","type":"nominal"},"y":{"field":"yb","type":"quantitative"},"y2":{"field":"y"}}},
   {"data":{"name":"fb2"},"mark":{"type":"text","dx":33,"dy":4,"baseline":"alphabetic","fontSize":12,"color":"#777777","font":"Liberation Serif"},"encoding":{"x":{"field":"a","type":"nominal"},"y":{"field":"y","type":"quantitative"},"text":{"field":"s"}}}
  ]}
]
}
